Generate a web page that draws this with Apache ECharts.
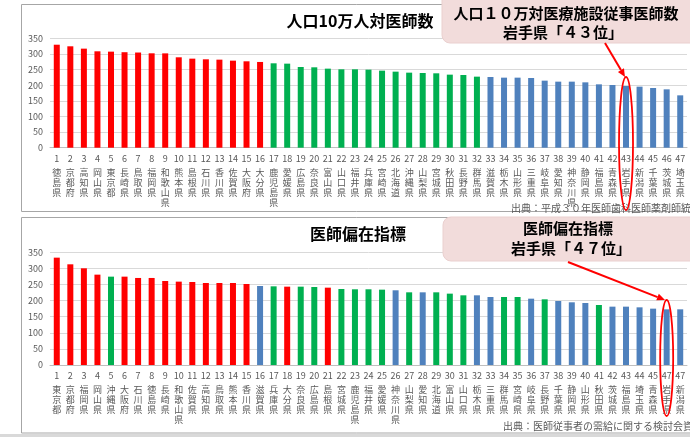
<!DOCTYPE html>
<html>
<head>
<meta charset="utf-8">
<script src="https://cdn.jsdelivr.net/npm/echarts@6/dist/echarts.min.js"></script>
<style>
  html, body { margin: 0; padding: 0; background: #ffffff; }
  #chart { width: 690px; height: 437px; }
</style>
</head>
<body>
<div id="chart"></div>
<script>
// 人口10万対 医療施設従事医師数（平成30年）
const topRanks = [1,2,3,4,5,6,7,8,9,10,11,12,13,14,15,16,17,18,19,20,21,22,23,24,25,26,27,28,29,30,31,32,33,34,35,36,37,38,39,40,41,42,43,44,45,46,47];
const topPrefs = ['徳島県','京都府','高知県','岡山県','東京都','長崎県','鳥取県','福岡県','和歌山県','熊本県','島根県','石川県','香川県','佐賀県','大阪府','大分県','鹿児島県','愛媛県','広島県','奈良県','富山県','山口県','福井県','兵庫県','宮崎県','北海道','沖縄県','山梨県','宮城県','秋田県','長野県','群馬県','滋賀県','栃木県','山形県','三重県','岐阜県','愛知県','神奈川県','静岡県','福島県','青森県','岩手県','新潟県','千葉県','茨城県','埼玉県'];
const topValues = [329.5,324.4,316.9,308.4,307.3,305.5,304.5,302.0,301.8,289.2,284.9,282.8,281.7,278.5,276.4,274.3,270.0,268.9,258.2,257.2,252.9,250.8,250.8,249.7,246.5,243.3,240.1,239.0,238.0,233.7,232.6,227.3,226.2,224.1,224.1,223.0,214.5,211.3,211.3,209.1,202.7,200.6,197.4,195.3,191.0,186.7,167.5];
const topGroups = ['H','H','H','H','H','H','H','H','H','H','H','H','H','H','H','H','M','M','M','M','M','M','M','M','M','M','M','M','M','M','M','M','L','L','L','L','L','L','L','L','L','L','L','L','L','L','L'];

// 医師偏在指標
const botRanks = [1,2,3,4,5,6,7,8,9,10,11,12,13,14,15,16,17,18,19,20,21,22,23,24,25,26,27,28,29,30,31,32,33,34,35,36,37,38,39,40,41,42,43,44,45,47,47];
const botPrefs = ['東京都','京都府','福岡県','岡山県','沖縄県','大阪府','石川県','徳島県','長崎県','和歌山県','佐賀県','高知県','鳥取県','熊本県','香川県','滋賀県','兵庫県','大分県','奈良県','広島県','島根県','宮城県','鹿児島県','福井県','愛媛県','神奈川県','山梨県','愛知県','北海道','富山県','山口県','栃木県','三重県','群馬県','宮崎県','岐阜県','長野県','千葉県','静岡県','山形県','秋田県','茨城県','福島県','埼玉県','青森県','岩手県','新潟県'];
const botValues = [333.4,312.7,300.3,280.6,274.4,274.4,270.3,270.3,260.9,258.9,257.8,254.7,254.7,254.7,251.6,245.4,244.3,243.3,243.3,242.3,240.2,236.1,235.1,235.1,234.0,232.0,225.7,225.7,225.7,221.6,216.4,216.4,211.2,211.2,211.2,206.0,204.0,198.8,194.7,192.6,186.4,181.2,181.2,179.1,175.0,172.9,172.9];
const botGroups = ['H','H','H','H','M','H','H','H','H','H','H','H','H','H','H','L','M','H','M','M','H','M','M','M','M','L','M','L','M','M','M','L','L','M','M','L','M','L','L','L','M','L','L','L','L','L','L'];

const groupColors = { H: '#ff0000', M: '#00b050', L: '#4f81bd' };
const FONT = "'Noto Sans CJK JP', 'Noto Sans', sans-serif";

function catLabels(ranks, prefs) {
  return prefs.map((p, i) => {
    const chars = p.split('').map(c => '{c|' + c + '}').join('\n');
    return '{n|' + ranks[i] + '}\n' + chars;
  });
}
function barData(values, groups) {
  return values.map((v, i) => ({ value: v, itemStyle: { color: groupColors[groups[i]] } }));
}

const richLabel = {
  n: { fontSize: 9, lineHeight: 18, color: '#595959', fontFamily: FONT },
  c: { fontSize: 9, lineHeight: 10, color: '#595959', fontFamily: FONT }
};

function xAxisFor(gridIndex, ranks, prefs) {
  return {
    type: 'category', gridIndex,
    data: catLabels(ranks, prefs),
    axisTick: { show: false },
    axisLine: { lineStyle: { color: '#bfbfbf' } },
    axisLabel: { interval: 0, margin: 2, verticalAlign: 'top', rich: richLabel, formatter: v => v }
  };
}
function yAxisFor(gridIndex) {
  return {
    type: 'value', gridIndex, min: 0, max: 350, interval: 50,
    axisLine: { show: false }, axisTick: { show: false },
    splitLine: { lineStyle: { color: '#d9d9d9', width: 1 } },
    axisLabel: { fontSize: 9, color: '#595959', margin: 7, fontFamily: FONT }
  };
}

const chart = echarts.init(document.getElementById('chart'), null, { renderer: 'canvas' });

const option = {
  animation: false,
  backgroundColor: '#ffffff',
  textStyle: { fontFamily: FONT },
  grid: [
    { left: 50, right: 3, top: 38.3, height: 109.4 },
    { left: 50, right: 3, top: 252.3, height: 112.7 }
  ],
  xAxis: [xAxisFor(0, topRanks, topPrefs), xAxisFor(1, botRanks, botPrefs)],
  yAxis: [yAxisFor(0), yAxisFor(1)],
  series: [
    { type: 'bar', xAxisIndex: 0, yAxisIndex: 0, barWidth: 6, data: barData(topValues, topGroups), z: 3 },
    { type: 'bar', xAxisIndex: 1, yAxisIndex: 1, barWidth: 6, data: barData(botValues, botGroups), z: 3 }
  ]
};
chart.setOption(option);

// Annotations: panel frames, titles, callouts, arrows and highlight rings
const xTop43 = chart.convertToPixel({ xAxisIndex: 0 }, 42);
const xBot47 = chart.convertToPixel({ xAxisIndex: 1 }, 45);

const frameStyle = { fill: 'none', stroke: '#a6a6a6', lineWidth: 1 };
const calloutStyle = { fill: '#f2dcdb', stroke: '#ead0cf', lineWidth: 1 };
const boldText = (x, y, text, size) => ({
  type: 'text', x, y, z: 20,
  style: { text, fontSize: size, fontWeight: 'bold', fill: '#000000', fontFamily: FONT, align: 'center', verticalAlign: 'middle' }
});
const srcText = (x, y, text) => ({
  type: 'text', x, y, z: 20,
  style: { text, fontSize: 10, fill: '#595959', fontFamily: FONT, align: 'left', verticalAlign: 'middle' }
});
function arrow(x1, y1, x2, y2) {
  const a = Math.atan2(y2 - y1, x2 - x1);
  const L = 8, W = 3.5;
  const bx = x2 - L * Math.cos(a), by = y2 - L * Math.sin(a);
  const px = -Math.sin(a) * W, py = Math.cos(a) * W;
  return [
    { type: 'line', z: 21, shape: { x1, y1, x2: bx, y2: by }, style: { stroke: '#ff0000', lineWidth: 2 } },
    { type: 'polygon', z: 21, shape: { points: [[x2, y2], [bx + px, by + py], [bx - px, by - py]] }, style: { fill: '#ff0000' } }
  ];
}

chart.setOption({
  graphic: [
    { type: 'rect', z: 0, shape: { x: 21.5, y: 4.5, width: 700, height: 207 }, style: frameStyle },
    { type: 'rect', z: 0, shape: { x: 21.5, y: 217.5, width: 700, height: 215.5 }, style: frameStyle },
    { type: 'rect', z: 0, shape: { x: 0, y: 434, width: 690, height: 4 }, style: { fill: '#d9d9d9' } },

    boldText(360, 21, '人口10万人対医師数', 16),
    boldText(358, 234, '医師偏在指標', 16),

    { type: 'rect', z: 15, shape: { x: 442, y: -8, width: 260, height: 51, r: 8 }, style: calloutStyle },
    boldText(566, 13, '人口１０万対医療施設従事医師数', 15),
    boldText(563, 32, '岩手県「４３位」', 15),

    { type: 'rect', z: 15, shape: { x: 443, y: 217, width: 260, height: 44, r: 8 }, style: calloutStyle },
    boldText(568, 228, '医師偏在指標', 15),
    boldText(571, 248, '岩手県「４７位」', 15),

    srcText(511, 208, '出典：平成３０年医師歯科医師薬剤師統計'),
    srcText(503, 426, '出典：医師従事者の需給に関する検討会資料'),

    ...arrow(605, 43, 625, 77),
    ...arrow(568, 262, 665, 300),

    { type: 'ellipse', z: 21, shape: { cx: xTop43, cy: 143.5, rx: 7, ry: 66.5 }, style: { fill: 'none', stroke: '#ff0000', lineWidth: 1.8 } },
    { type: 'ellipse', z: 21, shape: { cx: xBot47, cy: 358, rx: 6.5, ry: 58 }, style: { fill: 'none', stroke: '#ff0000', lineWidth: 1.8 } }
  ]
});
</script>
</body>
</html>
